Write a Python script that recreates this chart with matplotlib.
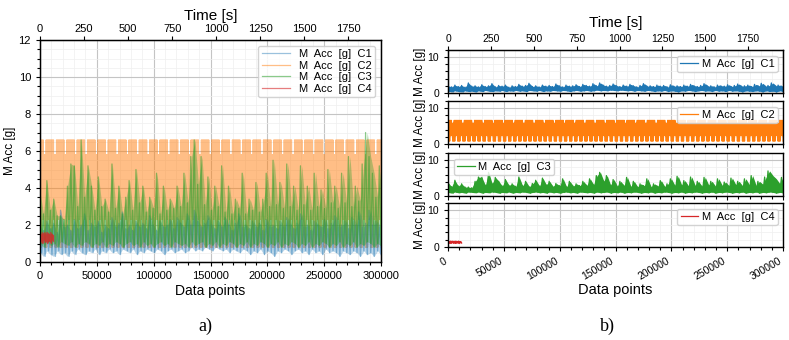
import numpy as np
import matplotlib
matplotlib.use("Agg")
import matplotlib.pyplot as plt
from matplotlib.ticker import AutoMinorLocator, MultipleLocator

plt.rcParams["font.family"] = ["Liberation Sans", "DejaVu Sans"]

# ── data ─────────────────────────────────────────────────────────────────
N_POINTS = 300000          # samples on the x axis
DURATION_S = 1935          # same record in seconds (top axis)

channels = ["C1", "C2", "C3", "C4"]
colors = ["#1f77b4", "#ff7f0e", "#2ca02c", "#d62728"]
labels = ["M  Acc  [g]  C1", "M  Acc  [g]  C2", "M  Acc  [g]  C3", "M  Acc  [g]  C4"]

# C1: local maxima / minima, 100 segments over the record
c1_hi = [2.0, 1.7, 2.2, 1.8, 2.1, 1.6, 2.8, 1.9, 2.0, 1.7,
         2.3, 1.8, 2.0, 2.6, 1.7, 2.1, 1.9, 2.2, 1.6, 2.0,
         1.8, 2.4, 1.9, 2.1, 2.7, 1.8, 2.0, 1.7, 2.2, 1.9,
         2.1, 1.8, 2.5, 2.0, 1.7, 2.2, 1.9, 2.0, 2.3, 1.8,
         2.4, 2.1, 1.9, 2.6, 2.0, 2.8, 2.2, 1.9, 2.1, 2.5,
         2.0, 1.8, 2.2, 1.9, 2.4, 2.0, 1.7, 2.1, 2.6, 1.9,
         2.0, 1.8, 2.2, 1.9, 2.1, 1.7, 2.3, 1.9, 2.0, 1.8,
         2.2, 1.9, 2.4, 2.0, 1.8, 2.1, 2.6, 1.9, 2.0, 1.7,
         2.2, 2.0, 1.9, 2.3, 1.8, 2.1, 2.5, 1.9, 2.0, 2.2,
         1.8, 2.4, 2.0, 2.7, 1.9, 2.1, 2.8, 2.0, 2.2, 1.9]
c1_lo = [0.5, 0.3, 0.6, 0.4, 0.3, 0.6, 0.4, 0.5, 0.3, 0.6,
         0.4, 0.7, 0.5, 0.4, 0.6, 0.5, 0.7, 0.4, 0.6, 0.5,
         0.7, 0.5, 0.6, 0.4, 0.7, 0.6, 0.5, 0.7, 0.4, 0.6,
         0.5, 0.7, 0.6, 0.5, 0.7, 0.6, 0.4, 0.6, 0.7, 0.5,
         0.6, 0.7, 0.5, 0.6, 0.8, 0.6, 0.7, 0.6, 0.8, 0.7,
         0.6, 0.8, 0.7, 0.6, 0.7, 0.5, 0.7, 0.6, 0.5, 0.7,
         0.6, 0.4, 0.6, 0.5, 0.7, 0.4, 0.6, 0.5, 0.3, 0.6,
         0.5, 0.7, 0.6, 0.4, 0.6, 0.7, 0.5, 0.6, 0.4, 0.7,
         0.5, 0.6, 0.4, 0.7, 0.5, 0.6, 0.5, 0.3, 0.6, 0.5,
         0.4, 0.6, 0.5, 0.3, 0.6, 0.4, 0.5, 0.3, 0.6, 0.4]

# C2: periodic signal, one cycle (max/min per half-swing), repeated cycles
c2_cycle_hi = [6.6, 6.6, 6.6, 6.6, 5.8, 5.8, 6.6, 6.6, 6.6, 6.6]
c2_cycle_lo = [0.8, 0.8, 2.3, 2.3, 0.8, 0.8, 0.8, 2.3, 2.3, 0.8]
c2_cycles = 33

# C3: local maxima / minima, 100 segments over the record
c3_hi = [3.8, 2.6, 4.4, 2.8, 3.4, 2.5, 2.5, 2.3, 4.1, 5.3,
         5.2, 3.0, 6.6, 3.5, 5.2, 4.1, 2.8, 4.6, 3.0, 3.4,
         2.7, 5.3, 2.9, 4.1, 2.6, 3.5, 4.4, 2.8, 5.0, 3.2,
         4.1, 2.7, 3.5, 2.9, 4.8, 2.6, 4.1, 2.8, 3.4, 2.9,
         4.1, 3.0, 4.8, 3.2, 5.7, 6.6, 4.2, 5.7, 3.1, 4.6,
         2.8, 4.1, 3.0, 5.2, 2.7, 4.1, 2.6, 3.4, 2.9, 4.8,
         2.6, 3.4, 2.8, 4.3, 2.7, 3.4, 4.8, 3.0, 5.5, 3.1,
         4.3, 2.9, 5.3, 3.0, 4.1, 2.8, 5.2, 3.1, 4.1, 2.8,
         4.8, 3.0, 3.9, 2.9, 5.0, 3.2, 4.1, 2.9, 4.8, 3.2,
         5.7, 3.0, 4.1, 3.3, 5.3, 7.0, 5.7, 4.8, 3.5, 5.2]
c3_lo = [1.0, 0.8, 1.1, 0.9, 1.0, 0.8, 1.1, 1.0, 0.9, 1.1,
         0.8, 1.0, 0.9, 1.1, 1.0, 0.8, 1.0, 0.9, 1.1, 0.8,
         1.0, 0.9, 1.1, 1.0, 0.8, 1.0, 1.1, 0.9, 1.0, 0.8,
         1.1, 0.9, 1.0, 0.8, 1.0, 1.1, 0.9, 1.0, 0.8, 1.1,
         1.0, 0.9, 1.0, 0.8, 1.1, 0.9, 1.0, 1.1, 0.8, 1.0,
         0.9, 1.1, 0.8, 1.0, 0.9, 1.1, 1.0, 0.8, 1.0, 0.9,
         1.1, 0.8, 1.0, 0.9, 1.1, 1.0, 0.8, 1.0, 0.9, 1.1,
         0.8, 1.0, 0.9, 1.1, 1.0, 0.8, 1.0, 0.9, 1.1, 0.8,
         1.0, 0.9, 1.1, 1.0, 0.8, 1.0, 0.9, 1.1, 0.8, 1.0,
         0.9, 1.1, 0.8, 1.0, 0.9, 1.1, 1.0, 0.8, 1.0, 0.9]

# C4: short record at the start only
c4_end = 12000
c4_hi = [1.6, 1.5, 1.6, 1.55, 1.6, 1.5, 1.6, 1.55, 1.5, 1.6, 1.5, 1.45]
c4_lo = [1.0, 1.1, 1.0, 1.2, 1.05, 1.1, 1.0, 1.15, 1.1, 1.0, 1.2, 1.1]

c2_hi = np.tile(c2_cycle_hi, c2_cycles)
c2_lo = np.tile(c2_cycle_lo, c2_cycles)
envelopes = [(c1_hi, c1_lo, N_POINTS), (c2_hi, c2_lo, N_POINTS),
             (c3_hi, c3_lo, N_POINTS), (c4_hi, c4_lo, c4_end)]
filled = [True, False, True, True]


def zigzag(hi, lo, x_end):
    y = np.column_stack([hi, lo]).ravel()
    x = np.linspace(0, x_end, len(y))
    return x, y


def draw(ax, env, c, lab, line_alpha, fill_alpha, fill, z):
    hi, lo, x_end = env
    x, y = zigzag(hi, lo, x_end)
    if fill:
        xs = np.linspace(0, x_end, len(hi))
        ax.fill_between(xs, lo, hi, color=c, alpha=fill_alpha, lw=0, zorder=z)
    ax.plot(x, y, color=c, alpha=line_alpha, lw=0.9, zorder=z, label=lab)


def style_axis(ax, fs):
    ax.set_xlim(0, N_POINTS)
    ax.set_ylim(0, 12)
    ax.xaxis.set_minor_locator(AutoMinorLocator(5))
    ax.yaxis.set_minor_locator(AutoMinorLocator(4))
    ax.grid(which="major", color="#c4c4c4", lw=0.8)
    ax.grid(which="minor", color="#efefef", lw=0.5)
    ax.set_axisbelow(True)
    ax.tick_params(which="both", labelsize=fs, length=3, width=0.8)
    ax.tick_params(which="minor", length=2)
    for s in ax.spines.values():
        s.set_linewidth(1.0)


fig = plt.figure(figsize=(7.89, 3.40), dpi=100)

# ── a) all channels overlaid ─────────────────────────────────────────────
ax = fig.add_axes([0.0507, 0.2294, 0.4322, 0.6529])
line_alphas = [0.45, 0.5, 0.55, 0.6]
fill_alphas = [0.3, 0.5, 0.35, 0.6]
zorders = [3, 2, 4, 5]
for env, c, la, fa, f, z, lab in zip(envelopes, colors, line_alphas, fill_alphas,
                                     filled, zorders, labels):
    draw(ax, env, c, lab, la, fa, f, z)
style_axis(ax, 8)
ax.yaxis.set_major_locator(MultipleLocator(2))
ax.set_ylabel("M Acc [g]", fontsize=8.5, labelpad=2)
ax.set_xlabel("Data points", fontsize=10, labelpad=2)
ax.legend(loc="upper right", fontsize=8, handlelength=2.6, labelspacing=0.15,
          borderpad=0.3, framealpha=0.85)
top = ax.twiny()
top.set_xlim(0, DURATION_S)
top.xaxis.set_major_locator(MultipleLocator(250))
top.tick_params(labelsize=8, length=3, width=0.8, pad=1)
top.set_xlabel("Time [s]", fontsize=11, labelpad=3)

# ── b) one channel per panel ─────────────────────────────────────────────
rows = [(0.7265, 0.1265), (0.5765, 0.1265), (0.4235, 0.1265), (0.2735, 0.1294)]
leg_loc = ["upper right", "upper right", "upper left", "upper right"]
axes_b = []
for i, ((bottom, height), env, c, f, lab) in enumerate(zip(rows, envelopes, colors,
                                                           filled, labels)):
    axb = fig.add_axes([0.568, bottom, 0.4246, height],
                       sharex=axes_b[0] if axes_b else None)
    draw(axb, env, c, lab, 1.0, 1.0, f, 2)
    style_axis(axb, 7.5)
    axb.yaxis.set_major_locator(MultipleLocator(10))
    axb.yaxis.set_minor_locator(AutoMinorLocator(5))
    axb.set_ylabel("M Acc [g]", fontsize=8.5, labelpad=1)
    axb.legend(loc=leg_loc[i], fontsize=8, handlelength=1.6, borderpad=0.3,
               handletextpad=0.3, framealpha=0.85)
    if i < 3:
        axb.tick_params(axis="x", labelbottom=False)
    axes_b.append(axb)

axes_b[-1].tick_params(axis="x", labelrotation=30, labelsize=7.5)
for lbl in axes_b[-1].get_xticklabels():
    lbl.set_ha("right")
axes_b[-1].set_xlabel("Data points", fontsize=10.5, labelpad=1)
topb = axes_b[0].twiny()
topb.set_xlim(0, 1955)
topb.xaxis.set_major_locator(MultipleLocator(250))
topb.tick_params(labelsize=7.5, length=3, width=0.8, pad=1)
topb.set_xlabel("Time [s]", fontsize=11, labelpad=5)

fig.text(205 / 789, 1 - 326 / 340, "a)", family="Liberation Serif", fontsize=13,
         ha="center", va="center")
fig.text(607 / 789, 1 - 326 / 340, "b)", family="Liberation Serif", fontsize=13,
         ha="center", va="center")

fig.savefig("out.png", dpi=100)
